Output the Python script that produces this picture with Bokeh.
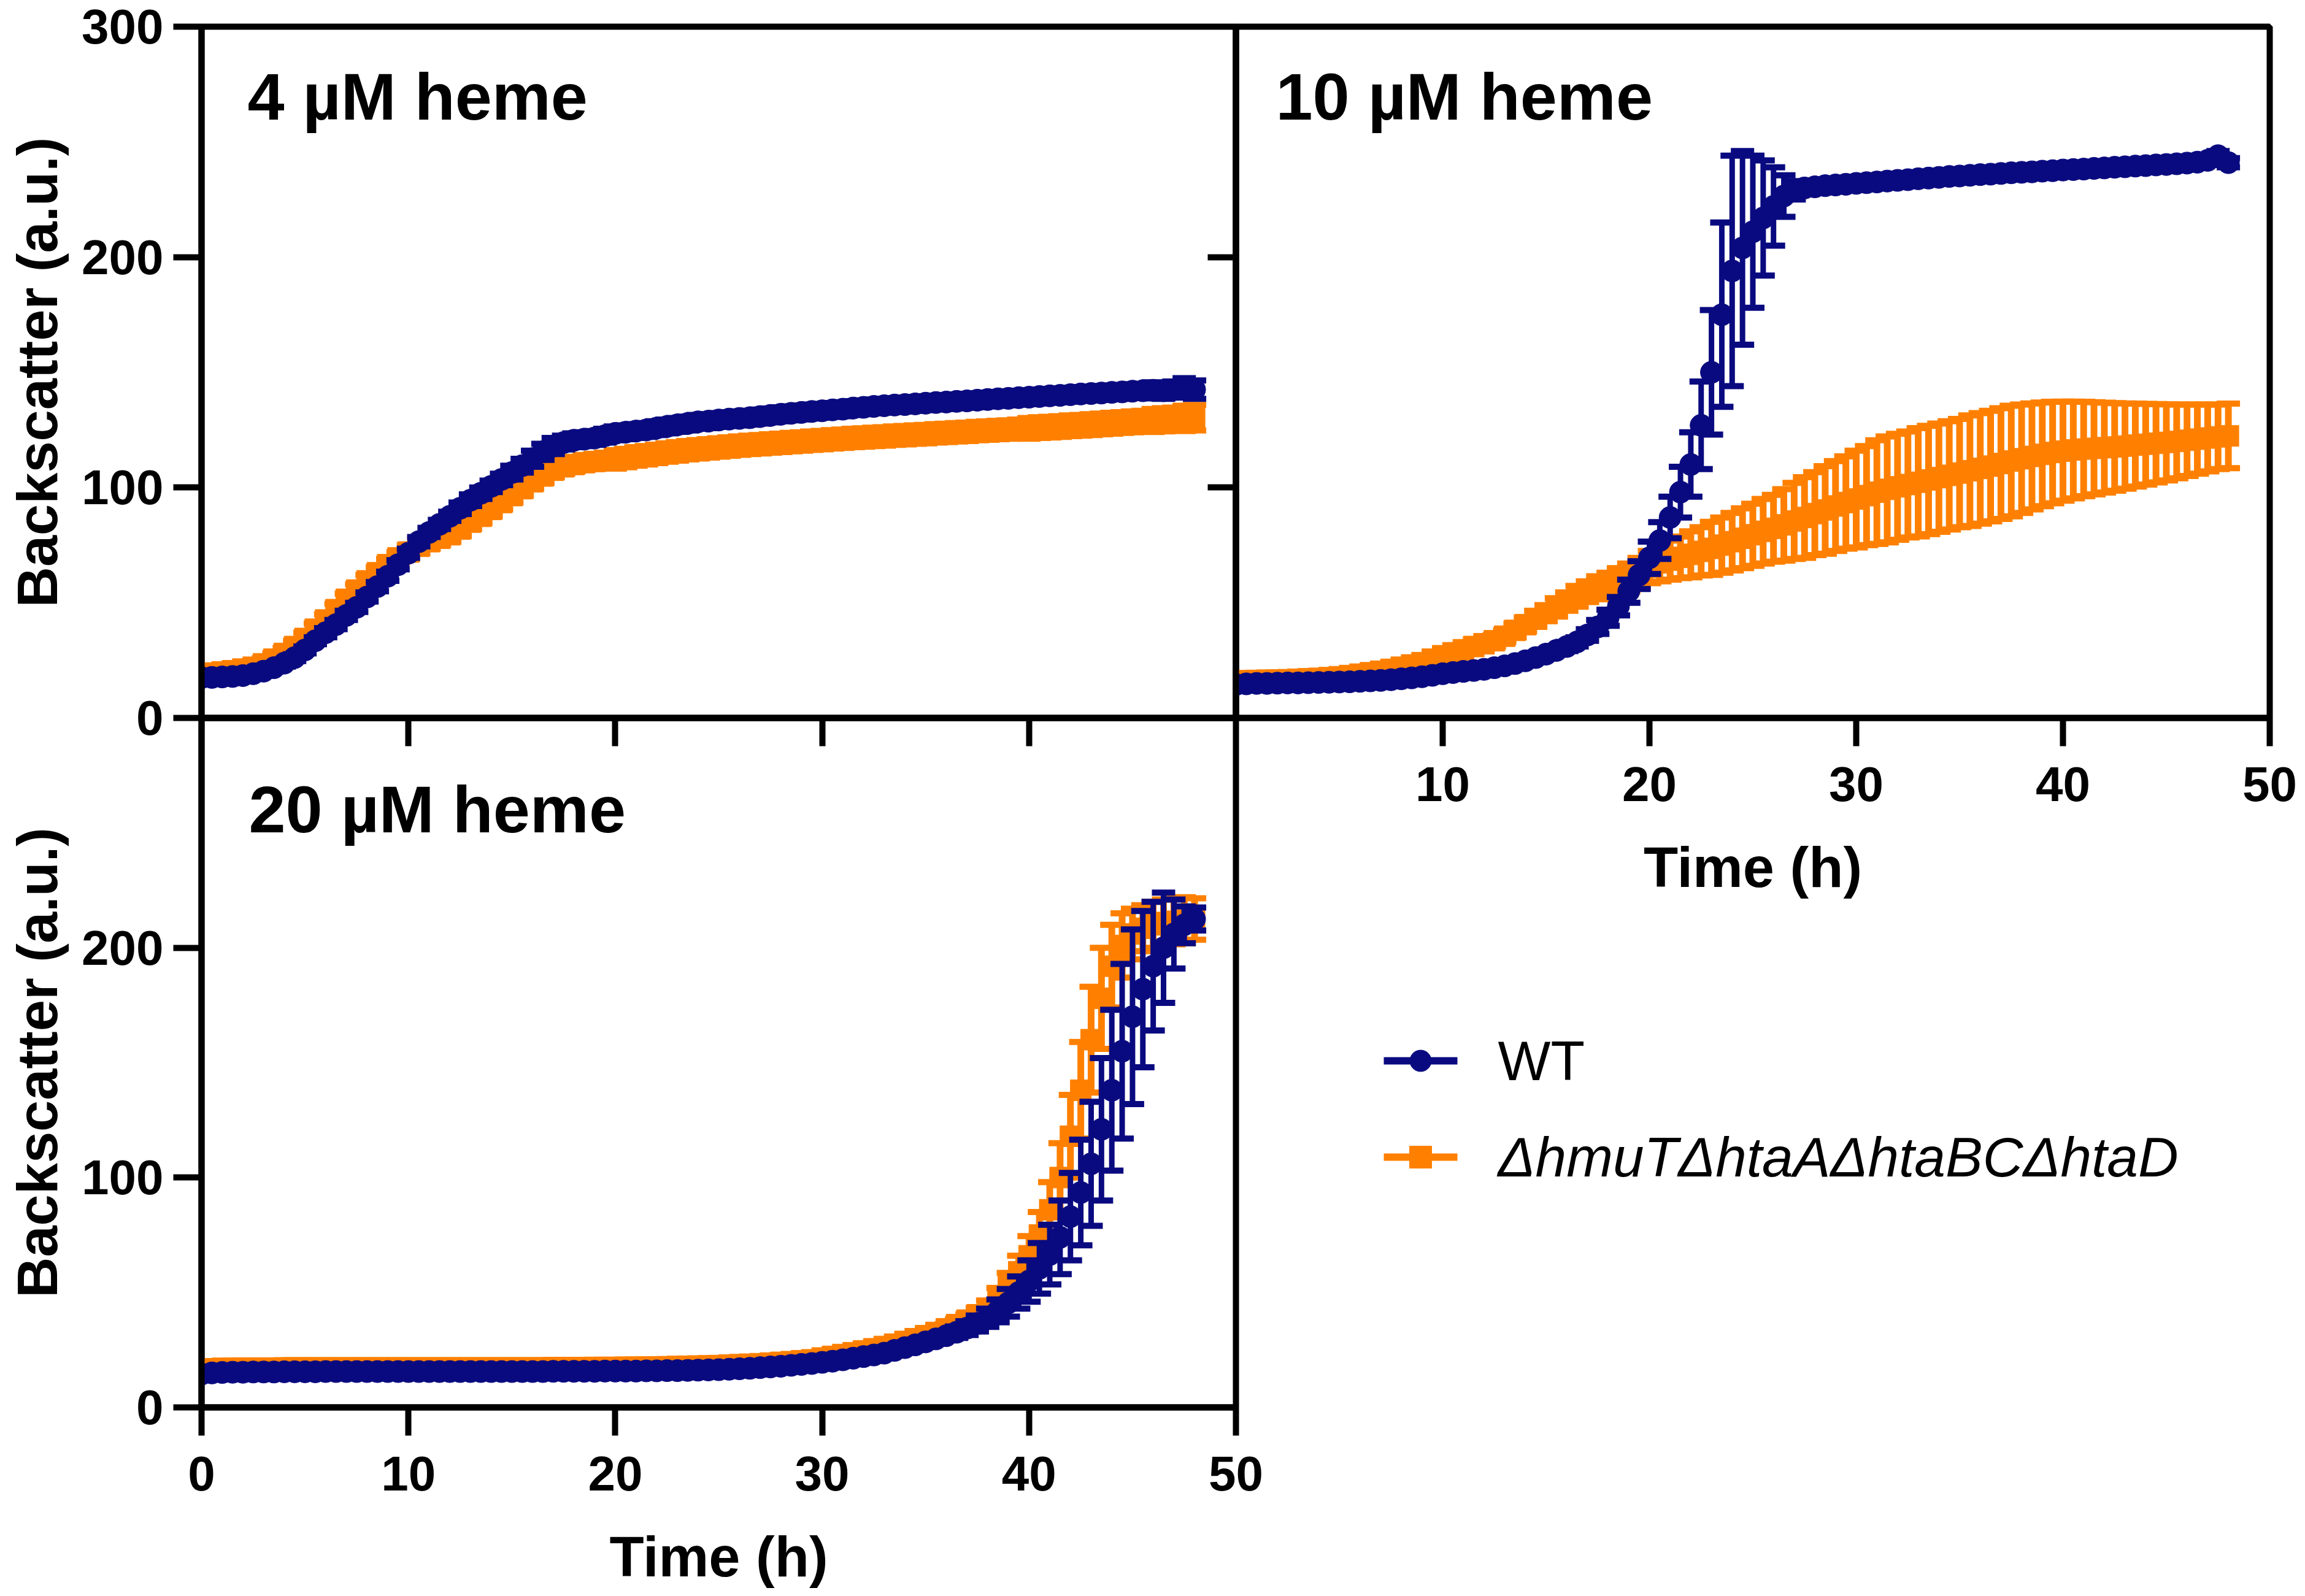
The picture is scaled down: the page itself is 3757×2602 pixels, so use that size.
from bokeh.plotting import figure
from bokeh.layouts import row, column
from bokeh.models import Range1d, FixedTicker, Label, LinearAxis, ColumnDataSource
from bokeh.embed import file_html
from bokeh.resources import INLINE
from bokeh.core.properties import value

# ---------------- data ----------------
TIME_H = [0, 0.5, 1, 1.5, 2, 2.5, 3, 3.5, 4, 4.5,
          5, 5.5, 6, 6.5, 7, 7.5, 8, 8.5, 9, 9.5,
          10, 10.5, 11, 11.5, 12, 12.5, 13, 13.5, 14, 14.5,
          15, 15.5, 16, 16.5, 17, 17.5, 18, 18.5, 19, 19.5,
          20, 20.5, 21, 21.5, 22, 22.5, 23, 23.5, 24, 24.5,
          25, 25.5, 26, 26.5, 27, 27.5, 28, 28.5, 29, 29.5,
          30, 30.5, 31, 31.5, 32, 32.5, 33, 33.5, 34, 34.5,
          35, 35.5, 36, 36.5, 37, 37.5, 38, 38.5, 39, 39.5,
          40, 40.5, 41, 41.5, 42, 42.5, 43, 43.5, 44, 44.5,
          45, 45.5, 46, 46.5, 47, 47.5, 48]

PANEL_TITLES = ["4 µM heme", "10 µM heme", "20 µM heme"]
SERIES_LABELS = ["WT", "ΔhmuTΔhtaAΔhtaBCΔhtaD"]
Y_LABEL = "Backscatter (a.u.)"
X_LABEL = "Time (h)"
Y_TICKS_TOP = [0, 100, 200, 300]
Y_TICKS_BOTTOM = [0, 100, 200]
Y_TICKS_INNER = [100, 200]
X_TICKS = [0, 10, 20, 30, 40, 50]
X_TICKS_RIGHT = [10, 20, 30, 40, 50]
X_TICKS_INNER = [10, 20, 30, 40]

# 4 uM heme
WT_4_MEAN = [17.5, 17.6, 17.8, 18.0, 18.4, 19.2, 20.3, 21.8, 23.8, 26.2,
             29.5, 33.5, 37.0, 40.5, 44.5, 48.0, 52.5, 57.0, 61.5, 66.5,
             71.5, 76.5, 80.5, 84.0, 87.5, 91.0, 94.5, 97.5, 100.5, 103.5,
             106.5, 109.5, 112.5, 115.5, 118.0, 119.5, 120.5, 121.0, 121.5, 122.5,
             123.5, 124.0, 124.5, 125.0, 125.8, 126.5, 127.2, 127.8, 128.5, 128.8,
             129.3, 129.7, 130.0, 130.3, 130.8, 131.3, 131.8, 132.2, 132.6, 133.0,
             133.3, 133.7, 134.0, 134.5, 134.8, 135.2, 135.5, 135.8, 136.0, 136.3,
             136.6, 136.9, 137.1, 137.4, 137.6, 137.9, 138.2, 138.5, 138.7, 139.0,
             139.2, 139.5, 139.8, 140.0, 140.3, 140.6, 140.8, 141.0, 141.3, 141.5,
             141.8, 142.0, 142.2, 142.0, 142.5, 143.5, 142.5]
WT_4_SD = [1.5, 1.5, 1.5, 1.5, 1.5, 1.5, 1.5, 1.5, 1.5, 1.5,
           1.5, 1.5, 2.0, 2.0, 2.0, 2.0, 2.0, 2.0, 2.0, 2.0,
           2.0, 2.0, 2.0, 2.0, 2.0, 2.5, 2.5, 2.5, 2.5, 2.5,
           3.0, 3.0, 3.5, 3.5, 3.5, 3.0, 3.0, 3.0, 3.0, 3.0,
           3.0, 3.0, 3.0, 3.0, 3.0, 3.0, 3.0, 3.0, 3.0, 3.0,
           3.0, 3.0, 3.0, 3.0, 3.0, 3.0, 3.0, 3.0, 3.0, 3.0,
           3.0, 3.0, 3.0, 3.0, 3.0, 3.0, 3.0, 3.0, 3.0, 3.0,
           3.0, 3.0, 3.0, 3.0, 3.0, 3.0, 3.0, 3.0, 3.0, 3.0,
           3.0, 3.0, 3.0, 3.0, 3.0, 3.0, 3.0, 3.0, 3.0, 3.0,
           3.0, 3.0, 3.5, 3.5, 3.5, 4.0, 4.0]
MUT_4_MEAN = [19.0, 19.5, 20.0, 20.5, 21.2, 22.0, 23.5, 25.5, 28.0, 31.0,
              34.5, 38.5, 42.5, 47.0, 51.5, 55.5, 59.5, 63.0, 66.5, 69.5,
              72.0, 74.5, 76.5, 78.0, 79.5, 82.0, 85.0, 87.5, 90.5, 93.5,
              96.5, 99.5, 102.5, 105.0, 107.5, 109.0, 110.0, 110.8, 111.3, 111.8,
              112.2, 112.8, 113.5, 114.0, 114.6, 115.2, 115.7, 116.2, 116.6, 117.0,
              117.4, 117.8, 118.2, 118.5, 118.8, 119.1, 119.4, 119.7, 120.0, 120.3,
              120.6, 120.9, 121.2, 121.5, 121.7, 122.0, 122.2, 122.5, 122.7, 123.0,
              123.2, 123.5, 123.7, 124.0, 124.2, 124.5, 124.7, 125.0, 125.2, 125.5,
              125.7, 126.0, 126.2, 126.5, 126.8, 127.0, 127.3, 127.6, 127.9, 128.2,
              128.5, 128.8, 129.1, 129.4, 129.7, 130.0, 130.3]
MUT_4_SD = [2.5, 2.5, 2.5, 2.5, 2.5, 2.5, 2.5, 2.5, 2.5, 2.5,
            2.5, 2.5, 2.5, 2.5, 2.5, 2.5, 2.5, 2.5, 2.5, 2.5,
            3.0, 3.0, 3.0, 3.0, 3.0, 3.0, 3.0, 3.0, 3.0, 3.0,
            3.0, 3.0, 3.0, 3.0, 3.0, 3.0, 3.0, 3.0, 3.0, 3.0,
            4.0, 4.0, 4.0, 4.0, 4.0, 4.0, 4.0, 4.0, 4.0, 4.0,
            4.0, 4.0, 4.0, 4.0, 4.0, 4.0, 4.0, 4.0, 4.0, 4.0,
            4.0, 4.0, 4.0, 4.0, 4.0, 4.0, 4.0, 4.0, 4.0, 4.0,
            4.0, 4.0, 4.0, 4.0, 4.0, 4.0, 4.0, 4.0, 4.0, 4.0,
            4.5, 4.5, 4.5, 4.5, 4.5, 4.5, 4.5, 4.5, 4.5, 4.5,
            4.5, 4.5, 5.0, 5.0, 5.0, 5.5, 5.5]

# 10 uM heme
WT_10_MEAN = [14.5, 14.8, 15.0, 15.0, 15.1, 15.2, 15.2, 15.3, 15.4, 15.5,
              15.6, 15.7, 15.9, 16.1, 16.3, 16.6, 17.0, 17.4, 17.9, 18.5,
              19.2, 19.7, 20.2, 20.6, 21.1, 21.8, 22.6, 23.6, 24.8, 26.2,
              27.7, 29.3, 31.0, 33.0, 36.0, 39.5, 43.5, 48.5, 55.0, 62.0,
              69.5, 77.0, 87.0, 98.0, 110.0, 127.0, 150.0, 175.0, 194.0, 204.0,
              211.0, 217.0, 222.0, 226.5, 229.0, 230.0, 230.5, 231.0, 231.3, 231.6,
              232.0, 232.3, 232.6, 233.0, 233.3, 233.6, 234.0, 234.3, 234.6, 235.0,
              235.2, 235.5, 235.8, 236.0, 236.3, 236.6, 236.8, 237.0, 237.3, 237.5,
              237.8, 238.0, 238.2, 238.5, 238.7, 239.0, 239.2, 239.5, 239.7, 240.0,
              240.2, 240.5, 240.8, 241.2, 242.0, 244.0, 241.0]
WT_10_SD = [1.5, 1.5, 1.5, 1.5, 1.5, 1.5, 1.5, 1.5, 1.5, 1.5,
            1.5, 1.5, 1.5, 1.5, 1.5, 1.5, 1.5, 1.5, 1.5, 1.5,
            1.5, 1.5, 1.5, 1.5, 1.5, 1.5, 1.5, 1.5, 1.5, 1.5,
            1.5, 1.5, 2.0, 2.0, 2.5, 3.0, 3.5, 4.0, 5.0, 6.0,
            7.0, 8.0, 9.0, 11.0, 14.0, 19.0, 27.0, 40.0, 50.0, 42.0,
            33.0, 25.0, 17.0, 9.0, 4.0, 2.5, 2.0, 2.0, 2.0, 2.0,
            2.0, 2.0, 2.0, 2.0, 2.0, 2.0, 2.0, 2.0, 2.0, 2.0,
            2.0, 2.0, 2.0, 2.0, 2.0, 2.0, 2.0, 2.0, 2.0, 2.0,
            2.0, 2.0, 2.0, 2.0, 2.0, 2.0, 2.0, 2.0, 2.0, 2.0,
            2.0, 2.0, 2.0, 2.0, 2.0, 2.0, 2.0]
MUT_10_MEAN = [16.0, 16.2, 16.3, 16.4, 16.5, 16.6, 16.8, 17.0, 17.2, 17.5,
               17.9, 18.4, 19.0, 19.6, 20.3, 21.1, 22.0, 23.0, 24.0, 25.5,
               27.0, 28.3, 29.6, 31.0, 32.2, 33.5, 35.5, 38.0, 40.5, 43.0,
               45.5, 48.0, 50.5, 52.8, 54.8, 56.5, 58.0, 59.5, 61.0, 63.0,
               65.5, 67.3, 68.5, 69.7, 71.0, 72.3, 73.6, 75.0, 76.5, 78.0,
               79.5, 81.0, 82.3, 83.8, 85.5, 87.0, 88.7, 90.3, 92.0, 93.5,
               95.0, 96.5, 98.0, 99.2, 100.3, 101.3, 102.3, 103.3, 104.3, 105.3,
               106.3, 107.3, 108.3, 109.3, 110.4, 111.5, 112.5, 113.5, 114.4, 115.2,
               115.8, 116.3, 116.7, 117.0, 117.3, 117.6, 118.0, 118.4, 118.8, 119.2,
               119.6, 120.0, 120.5, 121.0, 121.5, 122.0, 122.4]
MUT_10_SD = [1.5, 1.5, 1.5, 1.5, 1.5, 1.5, 1.5, 1.5, 1.5, 1.5,
             1.5, 1.5, 1.5, 1.5, 1.5, 1.5, 1.5, 1.5, 1.5, 1.5,
             1.5, 1.5, 2.0, 2.0, 2.0, 2.5, 2.5, 3.0, 3.0, 3.5,
             3.5, 4.0, 4.0, 4.5, 4.5, 5.0, 5.0, 5.5, 6.0, 6.5,
             7.0, 8.0, 8.5, 9.0, 10.0, 10.5, 11.5, 12.0, 12.5, 13.0,
             13.5, 14.0, 14.5, 15.5, 16.5, 17.5, 18.0, 19.0, 19.5, 20.0,
             21.0, 21.5, 22.5, 23.0, 23.0, 23.0, 23.5, 23.5, 23.5, 23.5,
             23.5, 24.0, 24.0, 24.0, 24.0, 24.0, 23.5, 23.0, 22.5, 22.0,
             21.5, 21.0, 20.5, 20.0, 19.5, 19.0, 18.5, 18.0, 17.5, 17.0,
             16.5, 16.0, 15.5, 15.0, 14.5, 14.0, 14.0]

# 20 uM heme
WT_20_MEAN = [14.5, 15.0, 15.2, 15.3, 15.3, 15.4, 15.4, 15.4, 15.5, 15.5,
              15.5, 15.5, 15.6, 15.6, 15.6, 15.6, 15.6, 15.6, 15.6, 15.6,
              15.6, 15.6, 15.6, 15.6, 15.6, 15.6, 15.6, 15.6, 15.6, 15.6,
              15.6, 15.6, 15.6, 15.6, 15.7, 15.7, 15.7, 15.7, 15.7, 15.8,
              15.8, 15.8, 15.8, 15.9, 15.9, 16.0, 16.0, 16.1, 16.2, 16.3,
              16.4, 16.6, 16.8, 17.0, 17.3, 17.6, 17.9, 18.3, 18.7, 19.1,
              19.6, 20.1, 20.7, 21.4, 22.1, 22.8, 23.6, 24.8, 26.0, 27.2,
              28.5, 29.8, 31.2, 32.7, 34.5, 36.5, 39.0, 42.0, 45.5, 50.0,
              55.0, 60.5, 66.5, 74.0, 83.0, 93.5, 106.0, 121.0, 138.0, 155.0,
              170.0, 182.0, 192.0, 200.0, 206.0, 210.0, 212.5]
WT_20_SD = [1.5, 1.5, 1.5, 1.5, 1.5, 1.5, 1.5, 1.5, 1.5, 1.5,
            1.5, 1.5, 1.5, 1.5, 1.5, 1.5, 1.5, 1.5, 1.5, 1.5,
            1.5, 1.5, 1.5, 1.5, 1.5, 1.5, 1.5, 1.5, 1.5, 1.5,
            1.5, 1.5, 1.5, 1.5, 1.5, 1.5, 1.5, 1.5, 1.5, 1.5,
            1.5, 1.5, 1.5, 1.5, 1.5, 1.5, 1.5, 1.5, 1.5, 1.5,
            1.5, 1.5, 1.5, 1.5, 1.5, 1.5, 1.5, 1.5, 1.5, 1.5,
            1.5, 1.5, 1.5, 1.5, 1.5, 1.5, 1.5, 1.5, 1.5, 1.5,
            1.5, 2.0, 2.0, 2.5, 3.0, 3.5, 4.0, 5.0, 6.0, 7.0,
            9.0, 11.0, 13.0, 16.0, 19.0, 23.0, 27.0, 31.0, 35.0, 38.0,
            38.0, 34.0, 28.0, 24.0, 15.0, 8.0, 5.0]
MUT_20_MEAN = [16.5, 16.8, 17.0, 17.0, 17.1, 17.1, 17.1, 17.1, 17.2, 17.2,
               17.2, 17.2, 17.2, 17.2, 17.2, 17.2, 17.2, 17.2, 17.2, 17.2,
               17.2, 17.2, 17.2, 17.2, 17.2, 17.2, 17.2, 17.2, 17.2, 17.2,
               17.2, 17.2, 17.2, 17.2, 17.3, 17.3, 17.3, 17.3, 17.4, 17.4,
               17.4, 17.5, 17.5, 17.6, 17.6, 17.7, 17.8, 17.9, 18.0, 18.1,
               18.2, 18.4, 18.6, 18.8, 19.0, 19.3, 19.6, 19.9, 20.3, 20.7,
               21.5, 22.2, 23.0, 23.8, 24.6, 25.5, 26.5, 27.5, 28.7, 29.9,
               31.2, 32.6, 34.2, 36.0, 38.0, 40.3, 43.0, 47.5, 53.0, 59.0,
               66.0, 75.0, 86.0, 100.0, 118.0, 138.0, 160.0, 178.0, 192.0, 201.0,
               206.0, 208.5, 210.0, 211.0, 211.5, 212.0, 212.5]
MUT_20_SD = [1.5, 1.5, 1.5, 1.5, 1.5, 1.5, 1.5, 1.5, 1.5, 1.5,
             1.5, 1.5, 1.5, 1.5, 1.5, 1.5, 1.5, 1.5, 1.5, 1.5,
             1.5, 1.5, 1.5, 1.5, 1.5, 1.5, 1.5, 1.5, 1.5, 1.5,
             1.5, 1.5, 1.5, 1.5, 1.5, 1.5, 1.5, 1.5, 1.5, 1.5,
             1.5, 1.5, 1.5, 1.5, 1.5, 1.5, 1.5, 1.5, 1.5, 1.5,
             1.5, 1.5, 1.5, 1.5, 1.5, 1.5, 1.5, 1.5, 1.5, 1.5,
             1.5, 1.5, 1.5, 1.5, 1.5, 1.5, 1.5, 1.5, 1.5, 1.5,
             1.5, 1.8, 2.0, 2.5, 2.5, 3.0, 3.5, 4.5, 5.5, 7.0,
             8.5, 10.0, 12.0, 15.0, 18.0, 21.0, 23.0, 22.0, 18.0, 14.0,
             11.0, 10.0, 10.0, 10.0, 10.0, 10.0, 9.0]

# ---------------- style ----------------
BLUE = "#0A0A80"
ORANGE = "#FF8000"
FONT = "Liberation Sans"
AX_W = 10
TICK_LEN = 46


def style_axis(ax, ticks, labels=True, label_text=None, tick_out=TICK_LEN,
               label_standoff=16, axis_label_standoff=20):
    ax.ticker = FixedTicker(ticks=ticks, minor_ticks=[])
    ax.axis_line_width = AX_W
    ax.axis_line_color = "black"
    ax.major_tick_line_width = AX_W
    ax.major_tick_line_color = "black"
    ax.major_tick_out = tick_out
    ax.major_tick_in = 0
    ax.minor_tick_line_color = None
    ax.major_label_text_font = FONT
    ax.major_label_text_font_style = "bold"
    if labels:
        ax.major_label_text_font_size = "80px"
        ax.major_label_text_color = "black"
        ax.major_label_standoff = label_standoff
    else:
        ax.major_label_text_font_size = "1px"
        ax.major_label_text_color = None
        ax.major_label_standoff = 0
    if label_text:
        ax.axis_label = label_text
        ax.axis_label_text_font = FONT
        ax.axis_label_text_font_style = "bold"
        ax.axis_label_text_font_size = "92px"
        ax.axis_label_text_color = "black"
        ax.axis_label_standoff = axis_label_standoff


def make_panel(width, height, ml, mr, mt, mb):
    p = figure(width=width, height=height, x_range=Range1d(0, 50), y_range=Range1d(0, 300),
               output_backend="svg", toolbar_location=None,
               x_axis_location=None, y_axis_location=None,
               min_border_left=ml, min_border_right=mr, min_border_top=mt, min_border_bottom=mb)
    p.grid.visible = False
    p.outline_line_color = "black"
    p.outline_line_width = AX_W
    p.background_fill_color = None
    p.border_fill_color = None
    return p


def draw_series(p, t, mean, sd, color, marker, msize, bar_w):
    lo = [m - s for m, s in zip(mean, sd)]
    hi = [m + s for m, s in zip(mean, sd)]
    src = ColumnDataSource(dict(t=t, m=mean, lo=lo, hi=hi))
    p.segment(x0="t", y0="lo", x1="t", y1="hi", source=src, line_color=color, line_width=bar_w)
    p.scatter(x="t", y="hi", source=src, marker="dash", size=38, line_color=color, line_width=10)
    p.scatter(x="t", y="lo", source=src, marker="dash", size=38, line_color=color, line_width=10)
    p.scatter(x="t", y="m", source=src, marker=marker, size=msize,
              fill_color=color, line_color=color, line_width=1)


def add_title(p, text, x, y):
    p.add_layout(Label(x=x, y=y, x_units="screen", y_units="screen", text=text,
                       text_font=FONT, text_font_style="bold", text_font_size="108px",
                       text_color="black", text_baseline="middle", text_align="left"))


# ---- panel 1 : 4 uM (top-left) ----
p1 = make_panel(2064, 1230, 328, 50, 43, 60)
ax = LinearAxis()
style_axis(ax, Y_TICKS_TOP, labels=True, label_text=Y_LABEL, label_standoff=16, axis_label_standoff=18)
p1.add_layout(ax, "left")
ax = LinearAxis()
style_axis(ax, X_TICKS_INNER, labels=False)
p1.add_layout(ax, "below")
draw_series(p1, TIME_H, MUT_4_MEAN, MUT_4_SD, ORANGE, "square", 34, 11)
draw_series(p1, TIME_H, WT_4_MEAN, WT_4_SD, BLUE, "circle", 36, 9)
add_title(p1, PANEL_TITLES[0], 75, 1013)

# ---- panel 3 : 20 uM (bottom-left) ----
p3 = make_panel(2064, 1436, 328, 50, 10, 302)
p3.margin = (-70, 0, 0, 0)
ax = LinearAxis()
style_axis(ax, Y_TICKS_BOTTOM, labels=True, label_text=Y_LABEL, label_standoff=16, axis_label_standoff=18)
p3.add_layout(ax, "left")
ax = LinearAxis()
style_axis(ax, X_TICKS, labels=True, label_text=X_LABEL, label_standoff=34, axis_label_standoff=54)
p3.add_layout(ax, "below")
draw_series(p3, TIME_H, MUT_20_MEAN, MUT_20_SD, ORANGE, "square", 34, 11)
draw_series(p3, TIME_H, WT_20_MEAN, WT_20_SD, BLUE, "circle", 36, 9)
add_title(p3, PANEL_TITLES[2], 77, 975)

# ---- panel 2 : 10 uM (top-right) ----
p2 = make_panel(1785, 1470, 50, 50, 43, 300)
ax = LinearAxis()
style_axis(ax, Y_TICKS_INNER, labels=False)
p2.add_layout(ax, "left")
ax = LinearAxis()
style_axis(ax, X_TICKS_RIGHT, labels=True, label_text=X_LABEL, label_standoff=34, axis_label_standoff=54)
p2.add_layout(ax, "below")
draw_series(p2, TIME_H, MUT_10_MEAN, MUT_10_SD, ORANGE, "square", 34, 11)
draw_series(p2, TIME_H, WT_10_MEAN, WT_10_SD, BLUE, "circle", 36, 9)
add_title(p2, PANEL_TITLES[1], 65, 1013)

# ---- legend area (bottom-right) ----
LEG_FW, LEG_H = 1685, 1126
p4 = figure(width=1785, height=LEG_H, x_range=Range1d(0, LEG_FW), y_range=Range1d(LEG_H, 0),
            output_backend="svg", toolbar_location=None,
            x_axis_location=None, y_axis_location=None,
            min_border_left=50, min_border_right=50, min_border_top=0, min_border_bottom=0)
p4.grid.visible = False
p4.outline_line_color = None
p4.background_fill_color = None
p4.border_fill_color = None
LEG_ROWS_Y = [259, 416]
LEG_LINE_X = [241, 361]
LEG_MARK_X = 301
LEG_TEXT_X = 427
LEG_STYLES = [(BLUE, "circle", 35, "normal"), (ORANGE, "square", 36, "italic")]
for (col, mk, sz, fst), yy, lab in zip(LEG_STYLES, LEG_ROWS_Y, SERIES_LABELS):
    p4.segment(x0=[LEG_LINE_X[0]], y0=[yy], x1=[LEG_LINE_X[1]], y1=[yy], line_color=col, line_width=12)
    p4.scatter(x=[LEG_MARK_X], y=[yy], marker=mk, size=sz, fill_color=col, line_color=col)
    p4.text(x=[LEG_TEXT_X], y=[yy], text=[lab], text_font=value(FONT),
            text_font_size=value("91px"), text_font_style=value(fst),
            text_color="black", text_baseline=value("middle"), text_align=value("left"))

left_col = column(p1, p3)
right_col = column(p2, p4)
right_col.margin = (0, 0, 0, -100)
layout = row(left_col, right_col)

open("out.html", "w").write(file_html(layout, INLINE))
